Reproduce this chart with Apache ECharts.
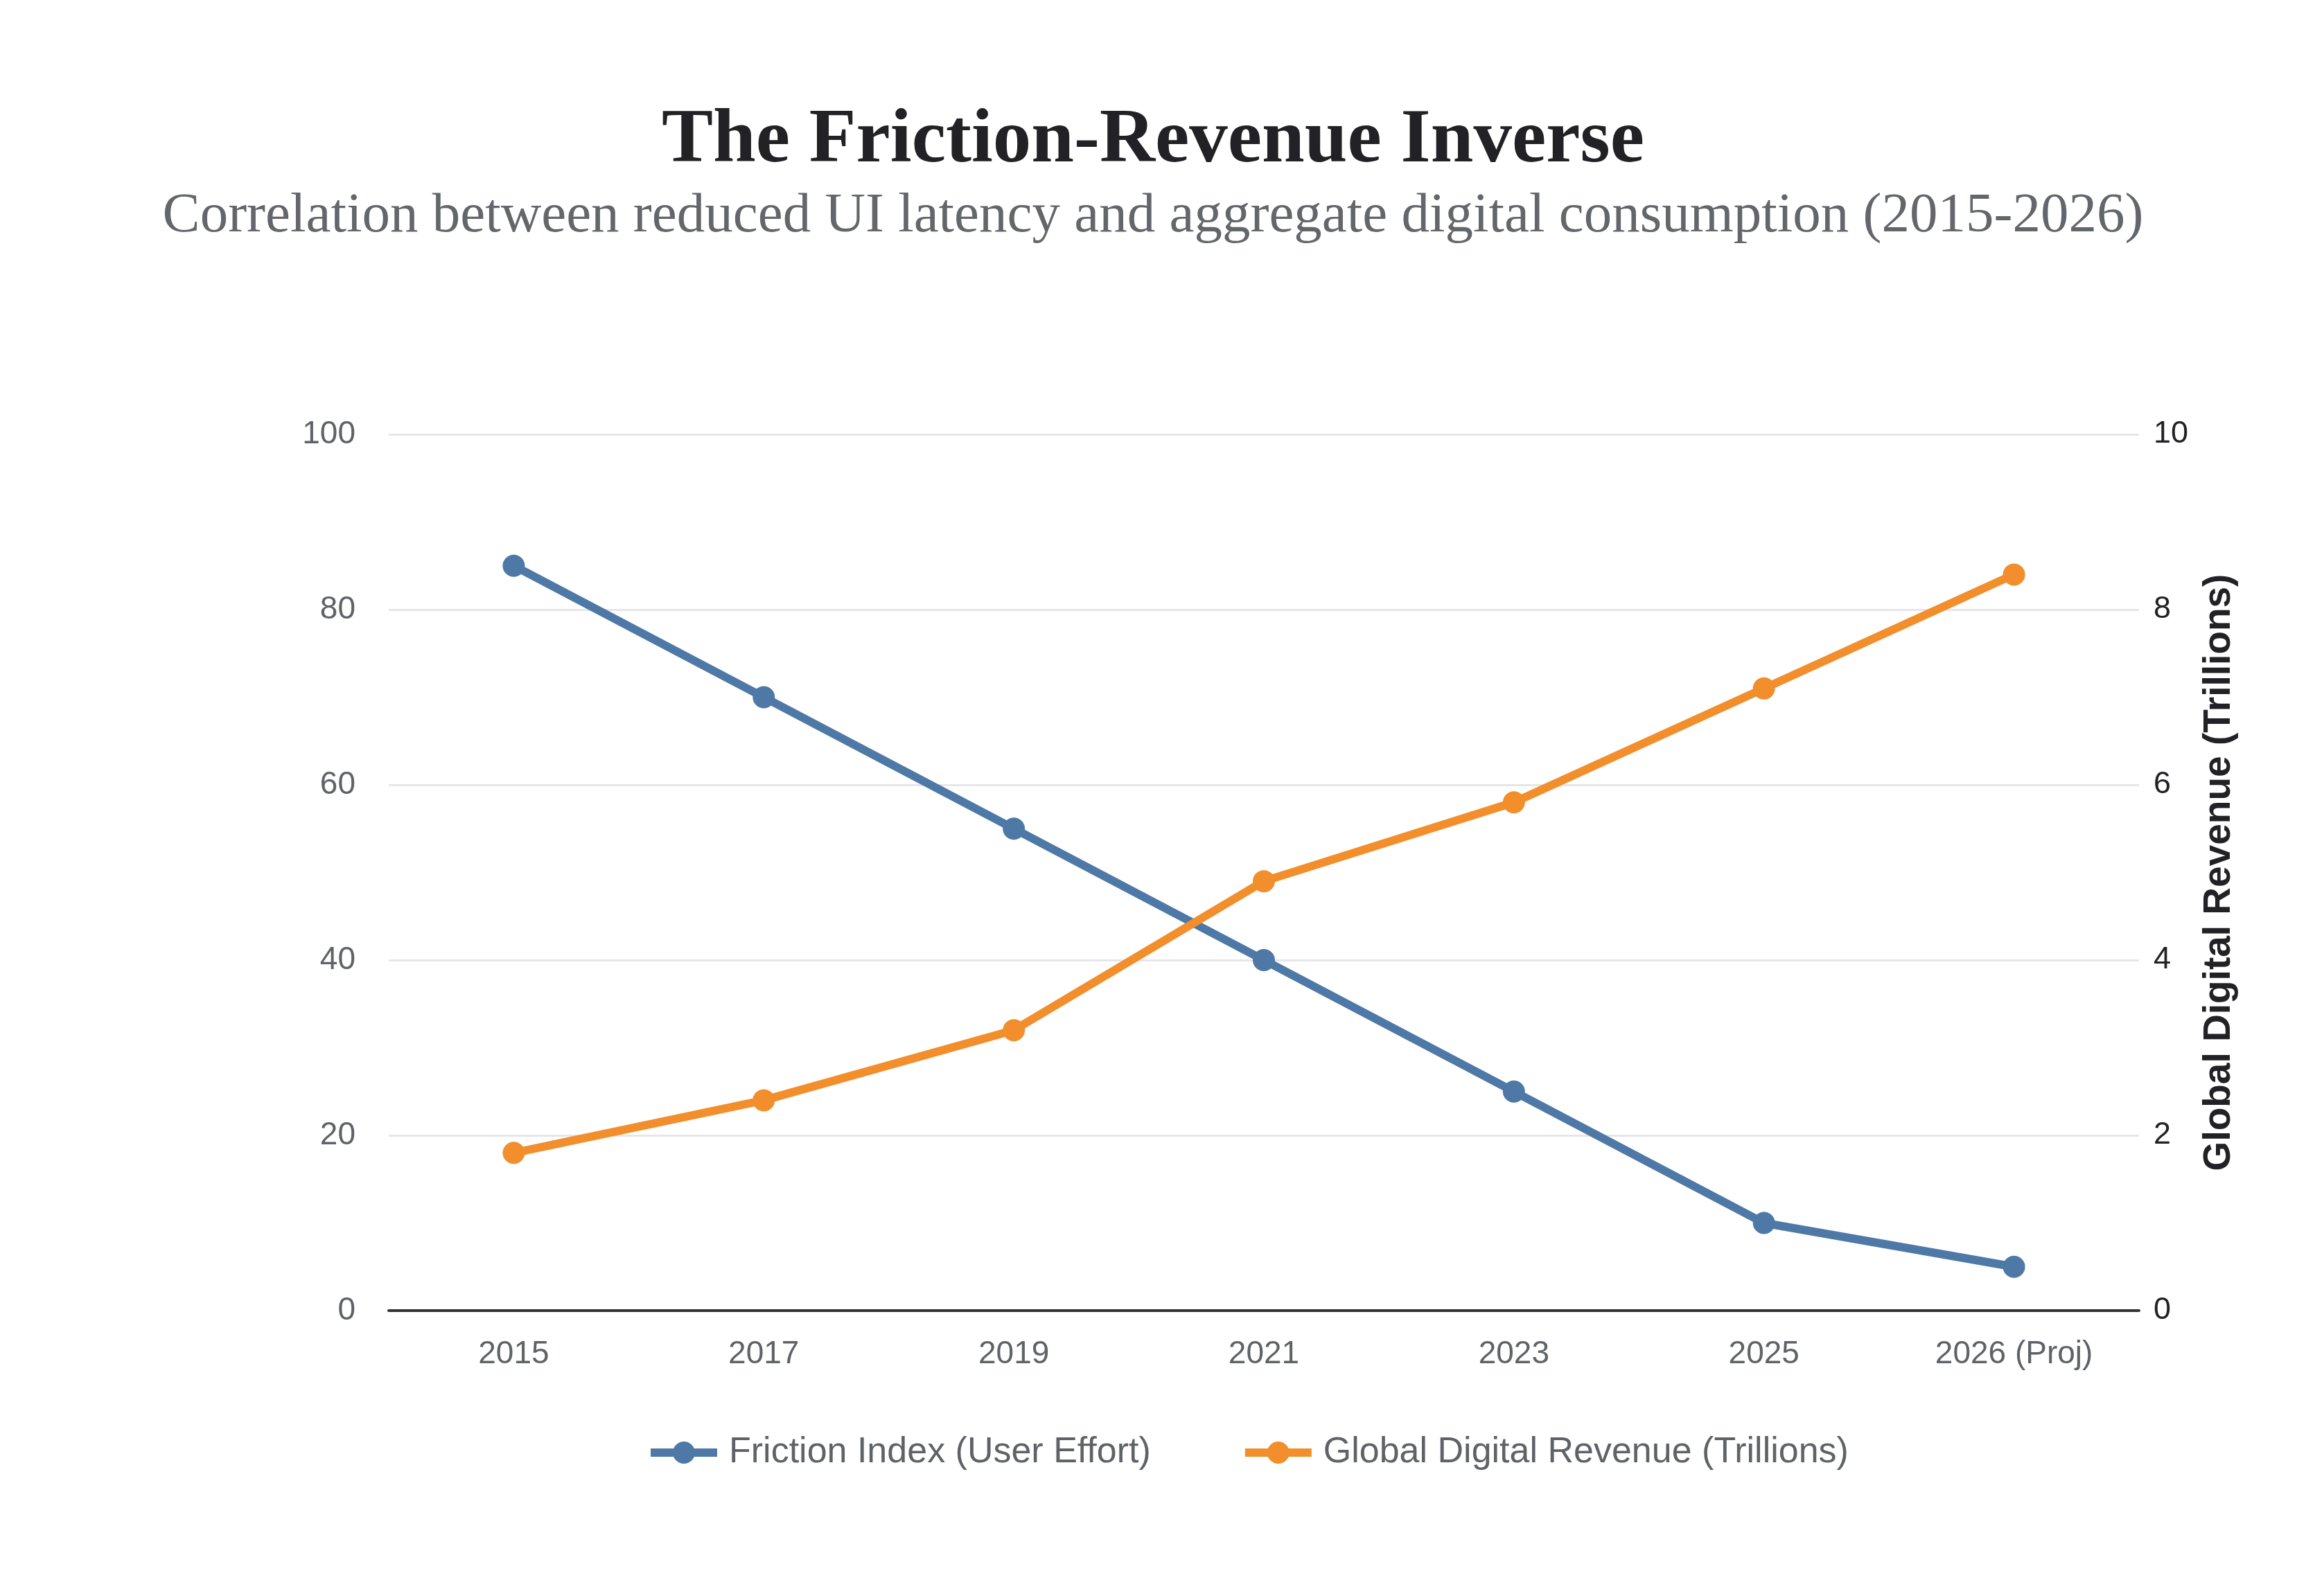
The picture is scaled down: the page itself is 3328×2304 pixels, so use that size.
<!DOCTYPE html>
<html>
<head>
<meta charset="utf-8">
<script src="https://cdn.jsdelivr.net/npm/echarts@6/dist/echarts.min.js"></script>
<style>html,body{margin:0;padding:0;background:#fff}#c{width:3328px;height:2304px}</style>
</head>
<body>
<div id="c"></div>
<script>
const categories = ['2015', '2017', '2019', '2021', '2023', '2025', '2026 (Proj)'];
const frictionIndex = [85, 70, 55, 40, 25, 10, 5];
const digitalRevenue = [1.8, 2.4, 3.2, 4.9, 5.8, 7.1, 8.4];
const leftTicks = { min: 0, max: 100, interval: 20 };
const rightTicks = { min: 0, max: 10, interval: 2 };

const chart = echarts.init(document.getElementById('c'));
const sans = '"Liberation Sans", Arial, Helvetica, sans-serif';
const serif = '"Liberation Serif", "DejaVu Serif", serif';
chart.setOption({
  backgroundColor: '#ffffff',
  title: [
    { text: 'The Friction-Revenue Inverse', left: 'center', top: 144,
      textStyle: { fontFamily: serif, fontWeight: 'bold', fontSize: 111, color: '#222226' } },
    { text: 'Correlation between reduced UI latency and aggregate digital consumption (2015-2026)', left: 'center', top: 267,
      textStyle: { fontFamily: serif, fontWeight: 'normal', fontSize: 81, color: '#63666b' } }
  ],
  legend: {
    left: 928, top: 2066, itemWidth: 96, itemHeight: 40, itemGap: 130,
    lineStyle: { width: 12 },
    textStyle: { fontFamily: sans, fontSize: 52, color: '#5f6368', padding: [0, 0, 0, 12] },
    data: ['Friction Index (User Effort)', 'Global Digital Revenue (Trillions)']
  },
  grid: { left: 561, right: 241, top: 627, bottom: 412, containLabel: false },
  xAxis: {
    type: 'category', data: categories, boundaryGap: true,
    axisLine: { show: true, lineStyle: { color: '#333333', width: 4 } },
    axisTick: { show: false },
    axisLabel: { fontFamily: sans, fontSize: 46, color: '#5f6368', margin: 40 }
  },
  yAxis: [
    { type: 'value', min: leftTicks.min, max: leftTicks.max, interval: leftTicks.interval,
      axisLine: { show: false }, axisTick: { show: false },
      axisLabel: { fontFamily: sans, fontSize: 46, color: '#5f6368', margin: 48 },
      splitLine: { lineStyle: { color: '#e6e6ea', width: 3 } } },
    { type: 'value', min: rightTicks.min, max: rightTicks.max, interval: rightTicks.interval, position: 'right',
      name: 'Global Digital Revenue (Trillions)', nameLocation: 'middle', nameGap: 88, nameRotate: 90,
      nameTextStyle: { fontFamily: sans, fontSize: 55, fontWeight: 'bold', color: '#222226' },
      axisLine: { show: false }, axisTick: { show: false },
      axisLabel: { fontFamily: sans, fontSize: 45, color: '#222226', margin: 21 },
      splitLine: { show: false } }
  ],
  series: [
    { name: 'Friction Index (User Effort)', type: 'line', yAxisIndex: 0, data: frictionIndex,
      symbol: 'circle', symbolSize: 32, color: '#4e79a7',
      lineStyle: { width: 12, color: '#4e79a7' }, itemStyle: { color: '#4e79a7' } },
    { name: 'Global Digital Revenue (Trillions)', type: 'line', yAxisIndex: 1, data: digitalRevenue,
      symbol: 'circle', symbolSize: 32, color: '#f28e2b',
      lineStyle: { width: 12, color: '#f28e2b' }, itemStyle: { color: '#f28e2b' } }
  ]
});
</script>
</body>
</html>
